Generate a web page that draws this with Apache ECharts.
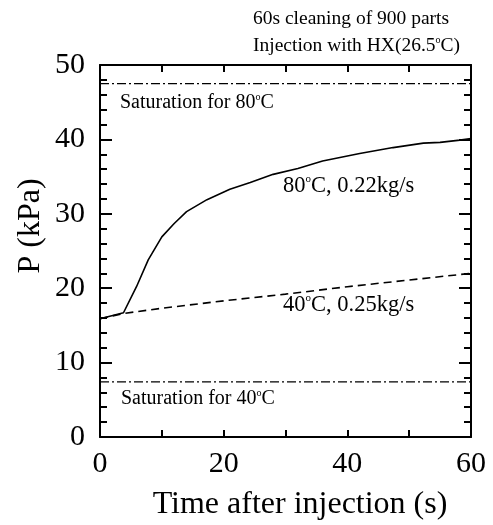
<!DOCTYPE html>
<html><head><meta charset="utf-8">
<script src="https://cdn.jsdelivr.net/npm/echarts@6/dist/echarts.min.js"></script>
<style>html,body{margin:0;padding:0;background:#fff}#c{width:493px;height:525px}</style>
</head><body><div id="c"></div>
<script>
// ---- data ----
const timeHot = [0, 3.8, 5.9, 7.8, 10, 12, 14, 17.3, 21, 24.3, 28, 32, 36, 42, 47.4, 52.3, 55, 58.2, 60];
const pressureHot = [15.9, 16.7, 20.2, 23.8, 26.9, 28.7, 30.3, 31.9, 33.3, 34.2, 35.3, 36.1, 37.1, 38.1, 38.9, 39.5, 39.6, 39.9, 40.1];
const timeWarm = [0, 3.8, 10, 20, 30, 40, 50, 60];
const pressureWarm = [15.9, 16.6, 17.3, 18.3, 19.2, 20.2, 21.1, 22.0];
const satTimes = [0, 60];
const saturation80 = 47.5;
const saturation40 = 7.4;
const xLabelTicks = [0, 20, 40, 60];

const FONT = "'Liberation Serif','Times New Roman',serif";
const chart = echarts.init(document.getElementById('c'), null, {renderer: 'canvas'});

function pairs(xs, ys) { return xs.map((x, i) => [x, ys[i]]); }
function degText(before, after, size, x, y) {
  const s = Math.round(size * 0.5);
  return {
    type: 'text', x: x, y: y,
    style: {
      text: '{m|' + before + '}{s|o}{m|' + after + '}',
      rich: {
        m: {fontSize: size, fontFamily: FONT, fill: '#000', color: '#000'},
        s: {fontSize: s, lineHeight: s, fontFamily: FONT, fill: '#000', color: '#000',
            padding: [0, 0, Math.round(size * 0.62), 0]}
      },
      fill: '#000', align: 'left', verticalAlign: 'middle', textAlign: 'left', textVerticalAlign: 'middle'
    }
  };
}
function plainText(t, size, x, y, rot) {
  return {
    type: 'text', x: x, y: y, rotation: rot || 0,
    style: {
      text: t, font: size + 'px ' + FONT, fill: '#000',
      align: 'center', verticalAlign: 'middle', textAlign: 'center', textVerticalAlign: 'middle'
    }
  };
}

const axisLine = {show: true, onZero: false, lineStyle: {color: '#000', width: 2}};
const xCommon = {type: 'value', min: 0, max: 60, interval: 10, axisLine: axisLine,
  axisTick: {show: true, inside: true, length: 7, lineStyle: {color: '#000', width: 2}},
  splitLine: {show: false}};
const yCommon = {type: 'value', min: 0, max: 50, interval: 10, axisLine: axisLine,
  axisTick: {show: true, inside: true, length: 12, lineStyle: {color: '#000', width: 2}},
  minorTick: {show: true, splitNumber: 5, length: 7, lineStyle: {color: '#000', width: 2}},
  splitLine: {show: false}, minorSplitLine: {show: false}};

chart.setOption({
  animation: false,
  backgroundColor: '#fff',
  grid: {left: 100, right: 22, top: 65, bottom: 88, containLabel: false, outerBoundsMode: 'none'},
  xAxis: [
    Object.assign({}, xCommon, {position: 'bottom',
      axisLabel: {show: true, fontSize: 30, fontFamily: FONT, color: '#000', margin: 12,
        formatter: v => xLabelTicks.includes(v) ? String(v) : ''}}),
    Object.assign({}, xCommon, {position: 'top', axisLabel: {show: false}})
  ],
  yAxis: [
    Object.assign({}, yCommon, {position: 'left',
      axisLabel: {show: true, fontSize: 30, fontFamily: FONT, color: '#000', margin: 15}}),
    Object.assign({}, yCommon, {position: 'right', axisLabel: {show: false}})
  ],
  series: [
    {type: 'line', name: '80C', data: pairs(timeHot, pressureHot), symbol: 'none',
      lineStyle: {color: '#000', width: 1.6, type: 'solid'}},
    {type: 'line', name: '40C', data: pairs(timeWarm, pressureWarm), symbol: 'none',
      lineStyle: {color: '#000', width: 1.6, type: [8, 5]}},
    {type: 'line', name: 'sat80', data: pairs(satTimes, satTimes.map(() => saturation80)), symbol: 'none',
      lineStyle: {color: '#000', width: 1.3, type: [9, 3, 2, 3]}},
    {type: 'line', name: 'sat40', data: pairs(satTimes, satTimes.map(() => saturation40)), symbol: 'none',
      lineStyle: {color: '#000', width: 1.3, type: [9, 3, 2, 3]}}
  ],
  graphic: [
    {type: 'text', x: 253, y: 19, style: {text: '60s cleaning of 900 parts', font: '19.5px ' + FONT, fill: '#000',
      align: 'left', verticalAlign: 'middle', textAlign: 'left', textVerticalAlign: 'middle'}},
    degText('Injection with HX(26.5', 'C)', 19.5, 253, 46),
    degText('Saturation for 80', 'C', 20, 120, 103),
    degText('Saturation for 40', 'C', 20, 121, 399),
    degText('80', 'C, 0.22kg/s', 22.5, 283, 186),
    degText('40', 'C, 0.25kg/s', 22.5, 283, 305),
    plainText('P (kPa)', 32, 31, 226, Math.PI / 2),
    plainText('Time after injection (s)', 32, 300, 505, 0)
  ]
});
</script></body></html>
